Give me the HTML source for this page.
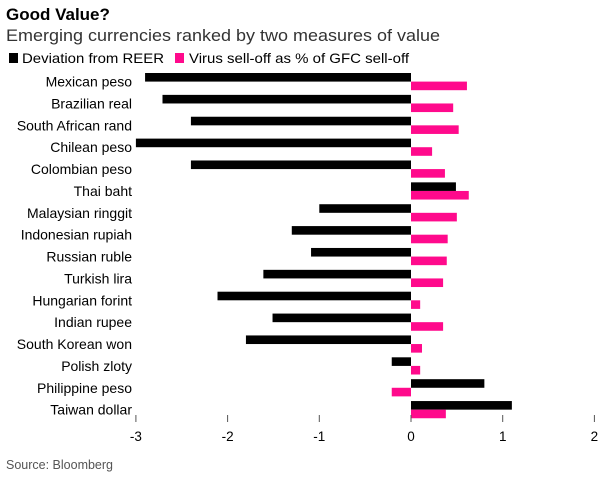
<!DOCTYPE html>
<html><head><meta charset="utf-8"><style>
body{margin:0;background:#fff;font-family:"Liberation Sans",sans-serif;}
svg text{font-family:"Liberation Sans",sans-serif;}
</style></head><body>
<svg width="615" height="476">
<text x="6" y="20" font-size="17" font-weight="bold" fill="#000">Good Value?</text>
<text x="6" y="41" font-size="17" fill="#333" textLength="434" lengthAdjust="spacingAndGlyphs">Emerging currencies ranked by two measures of value</text>
<g>
<rect x="9" y="53" width="9" height="10" fill="#000"/>
<text x="22" y="63" font-size="14" fill="#000" textLength="142" lengthAdjust="spacingAndGlyphs">Deviation from REER</text>
<rect x="175" y="53" width="9" height="10" fill="#ff0a8c"/>
<text x="189" y="63" font-size="14" fill="#000" textLength="220" lengthAdjust="spacingAndGlyphs">Virus sell-off as % of GFC sell-off</text>
</g>
<g id="plot"></g>
<text x="6" y="469" font-size="12.5" fill="#555">Source: Bloomberg</text>
</svg>
<script>
const categories=["Mexican peso","Brazilian real","South African rand","Chilean peso","Colombian peso","Thai baht","Malaysian ringgit","Indonesian rupiah","Russian ruble","Turkish lira","Hungarian forint","Indian rupee","South Korean won","Polish zloty","Philippine peso","Taiwan dollar"];
const reer=[-2.9,-2.71,-2.4,-3.0,-2.4,0.49,-1.0,-1.3,-1.09,-1.61,-2.11,-1.51,-1.8,-0.21,0.8,1.1];
const virus=[0.61,0.46,0.52,0.23,0.37,0.63,0.5,0.4,0.39,0.35,0.1,0.35,0.12,0.1,-0.21,0.38];
const ticks=[-3,-2,-1,0,1,2];
const ns="http://www.w3.org/2000/svg";
const g=document.getElementById('plot');
const x=v=>411+v*91.7;
const y=i=>73+i*21.87;
const bh=8.6;
function mk(t,a){const e=document.createElementNS(ns,t);for(const k in a)e.setAttribute(k,a[k]);g.appendChild(e);return e;}
categories.forEach((c,i)=>{
 let t=mk('text',{x:132,y:y(i)+bh+5,'font-size':14,'text-anchor':'end',fill:'#000'});
 t.textContent=c;
 
 
 let r=mk('rect',{x:Math.min(x(0),x(reer[i])),y:y(i),width:Math.abs(x(reer[i])-x(0)),height:bh,fill:'#000'});
 
 
 let p=mk('rect',{x:Math.min(x(0),x(virus[i])),y:y(i)+bh,width:Math.abs(x(virus[i])-x(0)),height:bh,fill:'#ff0a8c'});
 
 
});
ticks.forEach(v=>{
 let l=mk('line',{x1:x(v),x2:x(v),y1:415,y2:422,stroke:'#555','stroke-width':1});
 
 
 let t=mk('text',{x:x(v),y:441,'font-size':13.5,'text-anchor':'middle',fill:'#000'});
 t.textContent=v<0?'-'+Math.abs(v):String(v);
 
 
});
</script>
</body></html>
